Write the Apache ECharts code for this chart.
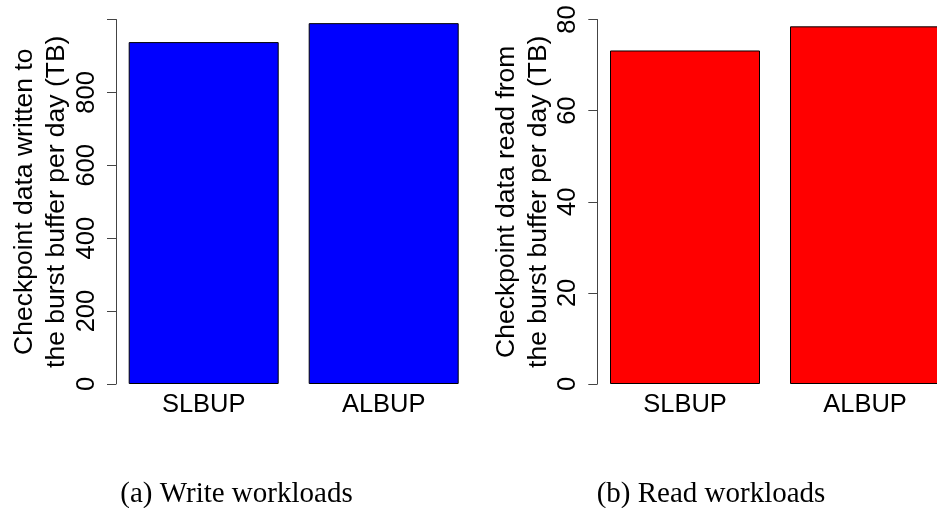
<!DOCTYPE html>
<html>
<head>
<meta charset="utf-8">
<script src="https://cdn.jsdelivr.net/npm/echarts@6/dist/echarts.min.js"></script>
<style>html,body{margin:0;padding:0;background:#fff}#c{width:937px;height:508px}</style>
</head>
<body>
<div id="c"></div>
<script>
const categories = ['SLBUP', 'ALBUP'];
const writeValues = [938, 990];
const readValues = [73.2, 78.5];
const writeTicks = [0, 200, 400, 600, 800, 1000];
const readTicks = [0, 20, 40, 60, 80];
const writeTitle = 'Checkpoint data written to\nthe burst buffer per day (TB)';
const readTitle = 'Checkpoint data read from\nthe burst buffer per day (TB)';
const captions = ['(a) Write workloads', '(b) Read workloads'];

const font = 'Liberation Sans, Arial, Helvetica, sans-serif';
const chart = echarts.init(document.getElementById('c'));

function yAxis(gridIndex, ticks, title, hideTop) {
  const max = ticks[ticks.length - 1];
  return {
    type: 'value', gridIndex: gridIndex, min: ticks[0], max: max,
    interval: ticks[1] - ticks[0], offset: -2.3,
    name: title, nameLocation: 'middle', nameRotate: 90, nameGap: 42,
    nameTextStyle: { fontFamily: font, fontSize: 26.5, color: '#000', lineHeight: 32 },
    axisLine: { show: true, lineStyle: { color: '#444', width: 1 } },
    axisTick: { show: true, length: 9, lineStyle: { color: '#444', width: 1 } },
    splitLine: { show: false },
    axisLabel: {
      rotate: 90, margin: 16, fontFamily: font, fontSize: 25.5, color: '#000',
      formatter: function (v) { return (hideTop && v === max) ? '' : String(v); }
    }
  };
}
function xAxis(gridIndex) {
  return {
    type: 'category', gridIndex: gridIndex, data: categories,
    axisLine: { show: false }, axisTick: { show: false },
    axisLabel: { margin: 8, fontFamily: font, fontSize: 25.5, color: '#000' }
  };
}

chart.setOption({
  animation: false,
  grid: [
    { left: 113.7, top: 19.5, width: 360, bottom: 124, outerBoundsMode: 'none', containLabel: false },
    { left: 595, top: 19.5, width: 360, bottom: 124, outerBoundsMode: 'none', containLabel: false }
  ],
  xAxis: [xAxis(0), xAxis(1)],
  yAxis: [yAxis(0, writeTicks, writeTitle, true), yAxis(1, readTicks, readTitle, false)],
  series: [
    { type: 'bar', xAxisIndex: 0, yAxisIndex: 0, data: writeValues, barWidth: 150,
      itemStyle: { color: '#0000FF', borderColor: '#000', borderWidth: 1 } },
    { type: 'bar', xAxisIndex: 1, yAxisIndex: 1, data: readValues, barWidth: 150,
      itemStyle: { color: '#FF0000', borderColor: '#000', borderWidth: 1 } }
  ],
  graphic: [
    { type: 'text', x: 236.5, y: 494, style: { text: captions[0], font: '29px "Liberation Serif", "Times New Roman", serif', fill: '#000', textAlign: 'center', textVerticalAlign: 'middle' } },
    { type: 'text', x: 711, y: 494, style: { text: captions[1], font: '29px "Liberation Serif", "Times New Roman", serif', fill: '#000', textAlign: 'center', textVerticalAlign: 'middle' } }
  ]
});
</script>
</body>
</html>
